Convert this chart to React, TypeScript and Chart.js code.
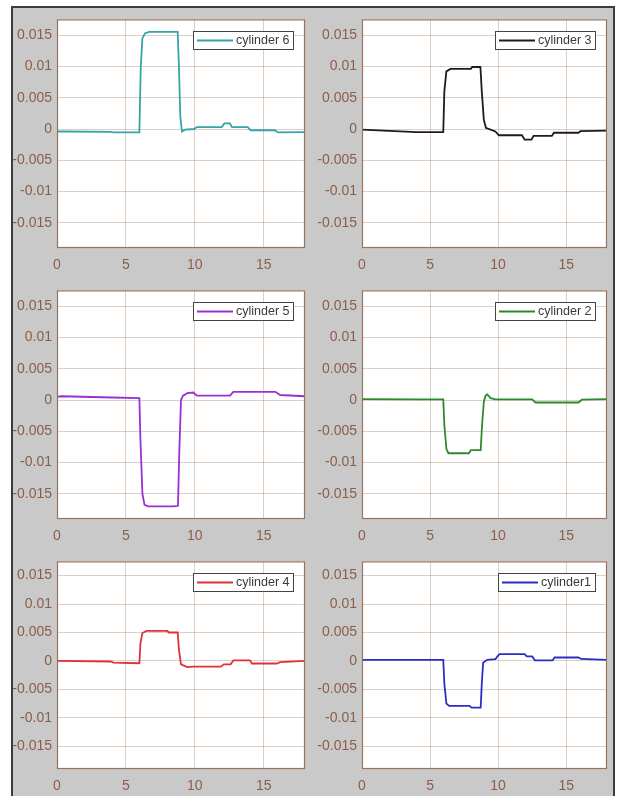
import React, { useEffect, useRef } from 'react';
import { Chart, registerables } from 'chart.js';

Chart.register(...registerables);

// ---- axes ----
const xTicks = [0, 5, 10, 15];
const yTicks = [-0.015, -0.01, -0.005, 0, 0.005, 0.01, 0.015];
const xMin = 0;
const xMax = 18;
const yMin = -0.019;
const yMax = 0.0175;

// ---- series (time, value) ----
const cyl6T = [0, 0.5, 3.9, 4.1, 5.98, 6.08, 6.2, 6.4, 6.7, 8.76, 8.85, 8.95, 9.07, 9.3, 9.95, 10.15, 11.95, 12.15, 12.55, 12.7, 13.85, 14.05, 15.8, 16.05, 18];
const cyl6V = [-0.0004, -0.0004, -0.00045, -0.00055, -0.00055, 0.01, 0.0145, 0.0153, 0.0155, 0.0155, 0.01, 0.002, -0.0004, -0.0001, 0.0, 0.0003, 0.0003, 0.0009, 0.0009, 0.0003, 0.0003, -0.0002, -0.0002, -0.00055, -0.0005];

const cyl3T = [0, 2, 4, 5.97, 6.05, 6.2, 6.5, 8.0, 8.1, 8.7, 8.8, 8.95, 9.1, 9.8, 10.05, 11.75, 11.95, 12.45, 12.6, 13.95, 14.1, 15.9, 16.05, 18];
const cyl3V = [-0.0001, -0.0003, -0.0005, -0.0005, 0.006, 0.0092, 0.0096, 0.0096, 0.0099, 0.0099, 0.006, 0.0015, 0.0002, -0.0004, -0.001, -0.001, -0.0017, -0.0017, -0.0011, -0.0011, -0.0006, -0.0006, -0.00035, -0.00025];

const cyl5T = [0, 0.3, 4, 5.98, 6.05, 6.2, 6.35, 6.6, 8.5, 8.78, 8.88, 9.0, 9.15, 9.45, 9.9, 10.15, 12.55, 12.8, 15.85, 16.2, 18];
const cyl5V = [0.0005, 0.0006, 0.0004, 0.0003, -0.006, -0.015, -0.0167, -0.017, -0.017, -0.0169, -0.008, 0.0, 0.0007, 0.0011, 0.0012, 0.0007, 0.0007, 0.0013, 0.0013, 0.0008, 0.0006];

const cyl2T = [0, 4, 5.97, 6.05, 6.2, 6.35, 7.86, 8.0, 8.72, 8.82, 8.95, 9.08, 9.2, 9.45, 9.8, 12.5, 12.75, 15.9, 16.15, 18];
const cyl2V = [0.00015, 0.0001, 0.0001, -0.004, -0.0078, -0.0085, -0.0085, -0.008, -0.008, -0.004, -0.0003, 0.0007, 0.0009, 0.0003, 0.0001, 0.0001, -0.0004, -0.0004, 0.00005, 0.00015];

const cyl4T = [0, 3.9, 4.1, 5.98, 6.05, 6.2, 6.5, 8.0, 8.12, 8.76, 8.85, 9.0, 9.45, 9.9, 11.9, 12.1, 12.6, 12.8, 14.0, 14.15, 15.95, 16.2, 18];
const cyl4V = [0, -0.0001, -0.0003, -0.0004, 0.003, 0.0049, 0.0053, 0.0053, 0.005, 0.005, 0.002, -0.0006, -0.0011, -0.001, -0.001, -0.0006, -0.0006, 0.0001, 0.0001, -0.00045, -0.00045, -0.0002, 0];

const cyl1T = [0, 5.97, 6.05, 6.2, 6.4, 7.9, 8.05, 8.72, 8.8, 8.9, 9.2, 9.8, 9.95, 10.1, 11.95, 12.1, 12.5, 12.7, 14.0, 14.15, 15.9, 16.1, 18];
const cyl1V = [0.0002, 0.0002, -0.004, -0.0075, -0.0079, -0.0079, -0.0082, -0.0082, -0.004, -0.0003, 0.0002, 0.0003, 0.0008, 0.0012, 0.0012, 0.0008, 0.0008, 0.0001, 0.0001, 0.0006, 0.0006, 0.00035, 0.0002];

const seriesLabels = ['cylinder 6', 'cylinder 3', 'cylinder 5', 'cylinder 2', 'cylinder 4', 'cylinder1'];
const seriesT = [cyl6T, cyl3T, cyl5T, cyl2T, cyl4T, cyl1T];
const seriesV = [cyl6V, cyl3V, cyl5V, cyl2V, cyl4V, cyl1V];
const seriesColors = ['#35a4a7', '#1c1c1c', '#9a30d4', '#2b8a2b', '#e0303c', '#2c2cc6'];

// ---- layout (styles) ----
const colLeft = [57, 362];
const colWidth = [248, 245];
const rowTop = [14, 285, 556];
const rowHeight = [234, 234, 213];

const PAD_L = 46;
const PAD_T = 8;
const PAD_R = 6;
const PAD_B = 28;

const TICK_COLOR = '#8c5e48';
const GRID_COLOR = 'rgba(175,140,115,0.42)';
const BOX_COLOR = '#9a735c';
const FONT_FAMILY = '"Liberation Sans", Arial, Helvetica, sans-serif';

const panelPlugin = {
  id: 'panelDecor',
  beforeDraw(chart: any) {
    const { ctx, chartArea: a } = chart;
    ctx.save();
    ctx.fillStyle = '#ffffff';
    ctx.fillRect(a.left, a.top, a.right - a.left, a.bottom - a.top);
    ctx.restore();
  },
  afterDraw(chart: any) {
    const { ctx, chartArea: a } = chart;
    ctx.save();
    ctx.strokeStyle = BOX_COLOR;
    ctx.lineWidth = 1.2;
    ctx.strokeRect(a.left + 0.5, a.top + 0.5, a.right - a.left - 1, a.bottom - a.top - 1);

    const ds = chart.data.datasets[0];
    const label = ds.label as string;
    ctx.font = '12.5px ' + FONT_FAMILY;
    const tw = ctx.measureText(label).width;
    const w = Math.round(3.5 + 36 + 3 + tw + 4);
    const h = 18;
    const x1 = Math.round(a.right - 12 - w) + 0.5;
    const y1 = Math.round(a.top + 11.5) + 0.5;
    ctx.fillStyle = '#ffffff';
    ctx.fillRect(x1, y1, w, h);
    ctx.strokeStyle = '#444444';
    ctx.lineWidth = 1;
    ctx.strokeRect(x1, y1, w, h);
    ctx.strokeStyle = ds.borderColor;
    ctx.lineWidth = 1.8;
    ctx.beginPath();
    ctx.moveTo(x1 + 3.5, y1 + h / 2);
    ctx.lineTo(x1 + 39.5, y1 + h / 2);
    ctx.stroke();
    ctx.fillStyle = '#3a3a3a';
    ctx.textBaseline = 'middle';
    ctx.textAlign = 'left';
    ctx.fillText(label, x1 + 42.5, y1 + h / 2 + 0.5);
    ctx.restore();
  },
};

function Panel({ idx }: { idx: number }) {
  const ref = useRef<HTMLCanvasElement | null>(null);
  const col = idx % 2;
  const row = Math.floor(idx / 2);
  const cw = colWidth[col] + PAD_L + PAD_R;
  const ch = rowHeight[row] + PAD_T + PAD_B;
  const left = colLeft[col] - PAD_L;
  const top = rowTop[row] - PAD_T;

  useEffect(() => {
    if (!ref.current) return;
    const t = seriesT[idx];
    const v = seriesV[idx];
    const font = { family: FONT_FAMILY, size: 14 };
    const chart = new Chart(ref.current, {
      type: 'line',
      data: {
        datasets: [
          {
            label: seriesLabels[idx],
            data: t.map((x, i) => ({ x, y: v[i] })),
            borderColor: seriesColors[idx],
            borderWidth: 1.8,
            pointRadius: 0,
            tension: 0,
            fill: false,
          },
        ],
      },
      options: {
        animation: false,
        responsive: false,
        maintainAspectRatio: false,
        devicePixelRatio: 1,
        layout: { padding: { top: PAD_T, right: PAD_R, left: 0, bottom: 0 } },
        plugins: { legend: { display: false }, tooltip: { enabled: false } },
        scales: {
          x: {
            type: 'linear',
            min: xMin,
            max: xMax,
            afterBuildTicks: (s: any) => {
              s.ticks = xTicks.map((value) => ({ value }));
            },
            afterFit: (s: any) => {
              s.height = PAD_B;
            },
            ticks: {
              autoSkip: false,
              maxRotation: 0,
              padding: 9,
              color: TICK_COLOR,
              font,
              callback: (val: any) => String(val),
            },
            grid: { color: GRID_COLOR, drawTicks: false, lineWidth: 1 },
            border: { display: false },
          },
          y: {
            type: 'linear',
            min: yMin,
            max: yMax,
            afterBuildTicks: (s: any) => {
              s.ticks = yTicks.map((value) => ({ value }));
            },
            afterFit: (s: any) => {
              s.width = PAD_L;
            },
            ticks: {
              autoSkip: false,
              padding: 5,
              color: TICK_COLOR,
              font,
              callback: (val: any) => String(val),
            },
            grid: { color: GRID_COLOR, drawTicks: false, lineWidth: 1 },
            border: { display: false },
          },
        },
      },
      plugins: [panelPlugin],
    } as any);
    return () => chart.destroy();
  }, [idx]);

  return (
    <canvas
      ref={ref}
      width={cw}
      height={ch}
      style={{ position: 'absolute', left, top, width: cw, height: ch }}
    />
  );
}

export default function App() {
  return (
    <div
      style={{
        position: 'absolute',
        left: 0,
        top: 0,
        width: 619,
        height: 796,
        background: '#ffffff',
        overflow: 'hidden',
      }}
    >
      <div
        style={{
          position: 'absolute',
          left: 11,
          top: 6,
          width: 604,
          height: 800,
          boxSizing: 'border-box',
          background: '#c9c9c9',
          borderLeft: '2px solid #3c3c3c',
          borderTop: '2px solid #3c3c3c',
          borderRight: '2px solid #3c3c3c',
        }}
      />
      {[0, 1, 2, 3, 4, 5].map((i) => (
        <Panel key={i} idx={i} />
      ))}
    </div>
  );
}
